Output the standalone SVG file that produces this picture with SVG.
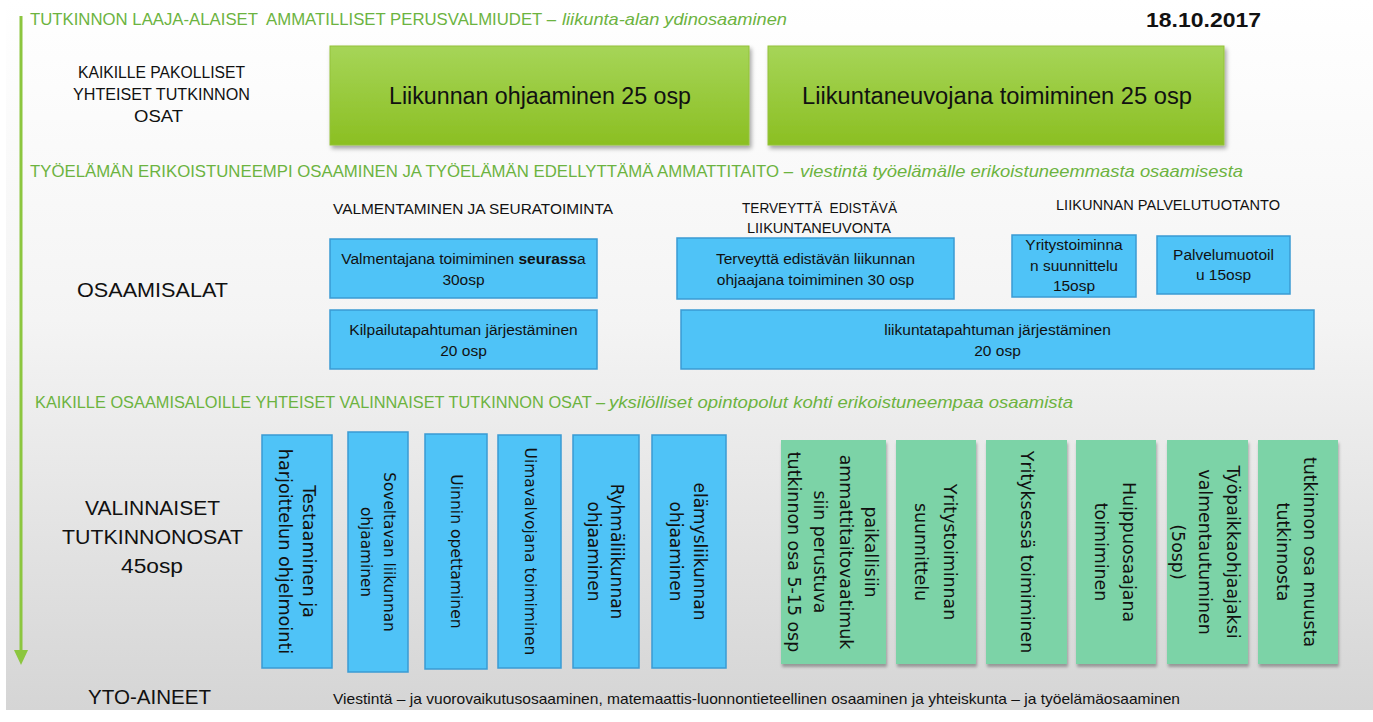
<svg xmlns="http://www.w3.org/2000/svg" width="1373" height="722" viewBox="0 0 1373 722">
<defs>
<linearGradient id="bg" x1="0" y1="0" x2="0" y2="1">
<stop offset="0" stop-color="#ffffff"/>
<stop offset="0.45" stop-color="#f4f4f4"/>
<stop offset="1" stop-color="#d5d5d5"/>
</linearGradient>
<linearGradient id="gg" x1="0" y1="0" x2="0" y2="1">
<stop offset="0" stop-color="#a6d558"/>
<stop offset="1" stop-color="#8bbf22"/>
</linearGradient>
<filter id="sh" x="-10%" y="-10%" width="125%" height="125%">
<feDropShadow dx="2" dy="3" stdDeviation="2" flood-color="#000" flood-opacity="0.35"/>
</filter>
<filter id="sh2" x="-10%" y="-10%" width="125%" height="125%">
<feDropShadow dx="1" dy="3" stdDeviation="1.5" flood-color="#000" flood-opacity="0.3"/>
</filter>
</defs>
<style>
.t{font-family:"Liberation Sans",Arial,sans-serif;fill:#111}
.hd{font-family:"Liberation Sans",Arial,sans-serif;fill:#6cb33f;font-size:16.5px;white-space:pre}
.it{font-style:italic}
.gbox{fill:url(#gg);stroke:#93c23a;stroke-width:1;filter:url(#sh)}
.bbox{fill:#4fc3f7;stroke:#3a9bd3;stroke-width:1.5}
.mbox{fill:#7cd3a7;filter:url(#sh2)}
.bt{font-family:"Liberation Sans",Arial,sans-serif;fill:#111;font-size:15.5px;text-anchor:middle}
.vt{font-family:"DejaVu Sans",Verdana,sans-serif;fill:#111;text-anchor:middle;dominant-baseline:central}
</style>
<rect x="0" y="0" width="1373" height="722" fill="#ffffff"/>
<rect x="6" y="0" width="1367" height="710" fill="url(#bg)"/>

<g id="connectors">
<line x1="21" y1="16" x2="21" y2="652" stroke="#8cc63f" stroke-width="3"/>
<polygon points="14,650 28,650 21,665" fill="#8cc63f"/>
</g>

<g id="headings">
<text class="hd" x="30" y="25" textLength="526" lengthAdjust="spacingAndGlyphs">TUTKINNON LAAJA-ALAISET  AMMATILLISET PERUSVALMIUDET –</text>
<text class="hd it" x="562" y="25" textLength="225" lengthAdjust="spacingAndGlyphs">liikunta-alan ydinosaaminen</text>
<text class="t" x="1146" y="27" font-size="20" font-weight="bold" textLength="115" lengthAdjust="spacingAndGlyphs">18.10.2017</text>
<text class="hd" x="30" y="177" textLength="763" lengthAdjust="spacingAndGlyphs">TYÖELÄMÄN ERIKOISTUNEEMPI OSAAMINEN JA TYÖELÄMÄN EDELLYTTÄMÄ AMMATTITAITO –</text>
<text class="hd it" x="800" y="177" textLength="443" lengthAdjust="spacingAndGlyphs">viestintä työelämälle erikoistuneemmasta osaamisesta</text>
<text class="hd" x="35" y="408" textLength="570" lengthAdjust="spacingAndGlyphs">KAIKILLE OSAAMISALOILLE YHTEISET VALINNAISET TUTKINNON OSAT –</text>
<text class="hd it" x="609" y="408" textLength="464" lengthAdjust="spacingAndGlyphs">yksilölliset opintopolut kohti erikoistuneempaa osaamista</text>
</g>

<g id="label-pakolliset">
<text class="t" x="78" y="78" font-size="16" textLength="167" lengthAdjust="spacingAndGlyphs">KAIKILLE PAKOLLISET</text>
<text class="t" x="73" y="100" font-size="16" textLength="177" lengthAdjust="spacingAndGlyphs">YHTEISET TUTKINNON</text>
<text class="t" x="134" y="122" font-size="16" textLength="49" lengthAdjust="spacingAndGlyphs">OSAT</text>
</g>

<g id="node-liikunnan-ohjaaminen">
<rect class="gbox" x="330" y="46" width="419" height="99"/>
<text class="t" x="389" y="104" font-size="23" textLength="302" lengthAdjust="spacingAndGlyphs">Liikunnan ohjaaminen 25 osp</text>
</g>
<g id="node-liikuntaneuvoja">
<rect class="gbox" x="768" y="46" width="456" height="99"/>
<text class="t" x="802" y="104" font-size="23" textLength="390" lengthAdjust="spacingAndGlyphs">Liikuntaneuvojana toimiminen 25 osp</text>
</g>

<g id="label-osaamisalat">
<text class="t" x="77" y="297" font-size="21" textLength="151" lengthAdjust="spacingAndGlyphs">OSAAMISALAT</text>
</g>

<g id="sub-headers">
<text class="t" x="333" y="214" font-size="15" textLength="280" lengthAdjust="spacingAndGlyphs">VALMENTAMINEN JA SEURATOIMINTA</text>
<text class="t" x="742" y="213" font-size="15" textLength="155" lengthAdjust="spacingAndGlyphs" style="white-space:pre">TERVEYTTÄ  EDISTÄVÄ</text>
<text class="t" x="747" y="233" font-size="15" textLength="144" lengthAdjust="spacingAndGlyphs">LIIKUNTANEUVONTA</text>
<text class="t" x="1056" y="210" font-size="15" textLength="224" lengthAdjust="spacingAndGlyphs">LIIKUNNAN PALVELUTUOTANTO</text>
</g>

<g id="node-valmentaja">
<rect class="bbox" x="330" y="239" width="267" height="59"/>
<text class="bt" x="463.5" y="264">Valmentajana toimiminen <tspan font-weight="bold">seurass</tspan>a</text>
<text class="bt" x="463.5" y="285">30osp</text>
</g>
<g id="node-kilpailutapahtuma">
<rect class="bbox" x="330" y="310" width="267" height="59"/>
<text class="bt" x="463.5" y="335">Kilpailutapahtuman järjestäminen</text>
<text class="bt" x="463.5" y="356">20 osp</text>
</g>
<g id="node-terveytta">
<rect class="bbox" x="677" y="238" width="277" height="61"/>
<text class="bt" x="815.5" y="264">Terveyttä edistävän liikunnan</text>
<text class="bt" x="815.5" y="285">ohjaajana toimiminen 30 osp</text>
</g>
<g id="node-yritystoiminta">
<rect class="bbox" x="1012" y="235" width="124" height="62"/>
<text class="bt" x="1074" y="250">Yritystoiminna</text>
<text class="bt" x="1074" y="271">n suunnittelu</text>
<text class="bt" x="1074" y="291">15osp</text>
</g>
<g id="node-palvelumuotoilu">
<rect class="bbox" x="1157" y="236" width="133" height="58"/>
<text class="bt" x="1223.5" y="260">Palvelumuotoil</text>
<text class="bt" x="1223.5" y="280">u 15osp</text>
</g>
<g id="node-liikuntatapahtuma">
<rect class="bbox" x="681" y="310" width="633" height="59"/>
<text class="bt" x="997.5" y="335">liikuntatapahtuman järjestäminen</text>
<text class="bt" x="997.5" y="356">20 osp</text>
</g>

<g id="label-valinnaiset">
<text class="t" x="85" y="515" font-size="20.5" textLength="135" lengthAdjust="spacingAndGlyphs">VALINNAISET</text>
<text class="t" x="62" y="544" font-size="20.5" textLength="181" lengthAdjust="spacingAndGlyphs">TUTKINNONOSAT</text>
<text class="t" x="121" y="573" font-size="20.5" textLength="62" lengthAdjust="spacingAndGlyphs">45osp</text>
</g>

<g id="node-testaaminen">
<rect class="bbox" x="262" y="435" width="70" height="233"/>
<text class="vt" font-size="17.6" transform="translate(297 551.5) rotate(90)"><tspan x="0" y="-12">Testaaminen ja</tspan><tspan x="0" y="12">harjoittelun ohjelmointi</tspan></text>
</g>
<g id="node-soveltava">
<rect class="bbox" x="348" y="432" width="60" height="240"/>
<text class="vt" font-size="15.3" transform="translate(378 552) rotate(90)"><tspan x="0" y="-11">Soveltavan liikunnan</tspan><tspan x="0" y="12">ohjaaminen</tspan></text>
</g>
<g id="node-uinti">
<rect class="bbox" x="425" y="434" width="62" height="235"/>
<text class="vt" font-size="15.6" transform="translate(456 551.5) rotate(90)"><tspan x="0" y="0">Uinnin opettaminen</tspan></text>
</g>
<g id="node-uimavalvoja">
<rect class="bbox" x="498" y="435" width="63" height="233"/>
<text class="vt" font-size="15.5" transform="translate(529.5 551.5) rotate(90)"><tspan x="0" y="0">Uimavalvojana toimiminen</tspan></text>
</g>
<g id="node-ryhmaliikunta">
<rect class="bbox" x="573" y="435" width="66" height="233"/>
<text class="vt" font-size="17" transform="translate(606 551.5) rotate(90)"><tspan x="0" y="-11">Ryhmäliikunnan</tspan><tspan x="0" y="12">ohjaaminen</tspan></text>
</g>
<g id="node-elamysliikunta">
<rect class="bbox" x="652" y="435" width="74" height="233"/>
<text class="vt" font-size="17" transform="translate(689 551.5) rotate(90)"><tspan x="0" y="-11">elämysliikunnan</tspan><tspan x="0" y="13">ohjaaminen</tspan></text>
</g>

<g id="node-paikalliset">
<rect class="mbox" x="781" y="440" width="105" height="224"/>
<text class="vt" font-size="17.4" transform="translate(833.5 552) rotate(90)"><tspan x="0" y="-37">paikallisiin</tspan><tspan x="0" y="-12">ammattitaitovaatimuk</tspan><tspan x="0" y="14">siin perustuva</tspan><tspan x="0" y="40">tutkinnon osa 5-15 osp</tspan></text>
</g>
<g id="node-yritystoiminnan-suunnittelu">
<rect class="mbox" x="896" y="440" width="80" height="224"/>
<text class="vt" font-size="17.4" transform="translate(936 552) rotate(90)"><tspan x="0" y="-14">Yritystoiminnan</tspan><tspan x="0" y="15">suunnittelu</tspan></text>
</g>
<g id="node-yrityksessa">
<rect class="mbox" x="986" y="440" width="81" height="224"/>
<text class="vt" font-size="17.4" transform="translate(1026.5 552) rotate(90)"><tspan x="0" y="0">Yrityksessä toimiminen</tspan></text>
</g>
<g id="node-huippuosaaja">
<rect class="mbox" x="1076" y="440" width="80" height="224"/>
<text class="vt" font-size="17.4" transform="translate(1116 552) rotate(90)"><tspan x="0" y="-13">Huippuosaajana</tspan><tspan x="0" y="15">toimiminen</tspan></text>
</g>
<g id="node-tyopaikkaohjaaja">
<rect class="mbox" x="1167" y="440" width="81" height="224"/>
<text class="vt" font-size="17.4" transform="translate(1207.5 552) rotate(90)"><tspan x="0" y="-25.5">Työpaikkaohjaajaksi</tspan><tspan x="0" y="2.5">valmentautuminen</tspan><tspan x="0" y="29.5">(5osp)</tspan></text>
</g>
<g id="node-muusta-tutkinnosta">
<rect class="mbox" x="1258" y="440" width="80" height="224"/>
<text class="vt" font-size="17.4" transform="translate(1298 552) rotate(90)"><tspan x="0" y="-12">tutkinnon osa muusta</tspan><tspan x="0" y="15">tutkinnosta</tspan></text>
</g>

<g id="yto">
<text class="t" x="88" y="704" font-size="20" textLength="123" lengthAdjust="spacingAndGlyphs">YTO-AINEET</text>
<text class="t" x="333" y="704" font-size="14.5" textLength="847" lengthAdjust="spacingAndGlyphs">Viestintä – ja vuorovaikutusosaaminen, matemaattis-luonnontieteellinen osaaminen ja yhteiskunta – ja työelämäosaaminen</text>
</g>
</svg>
